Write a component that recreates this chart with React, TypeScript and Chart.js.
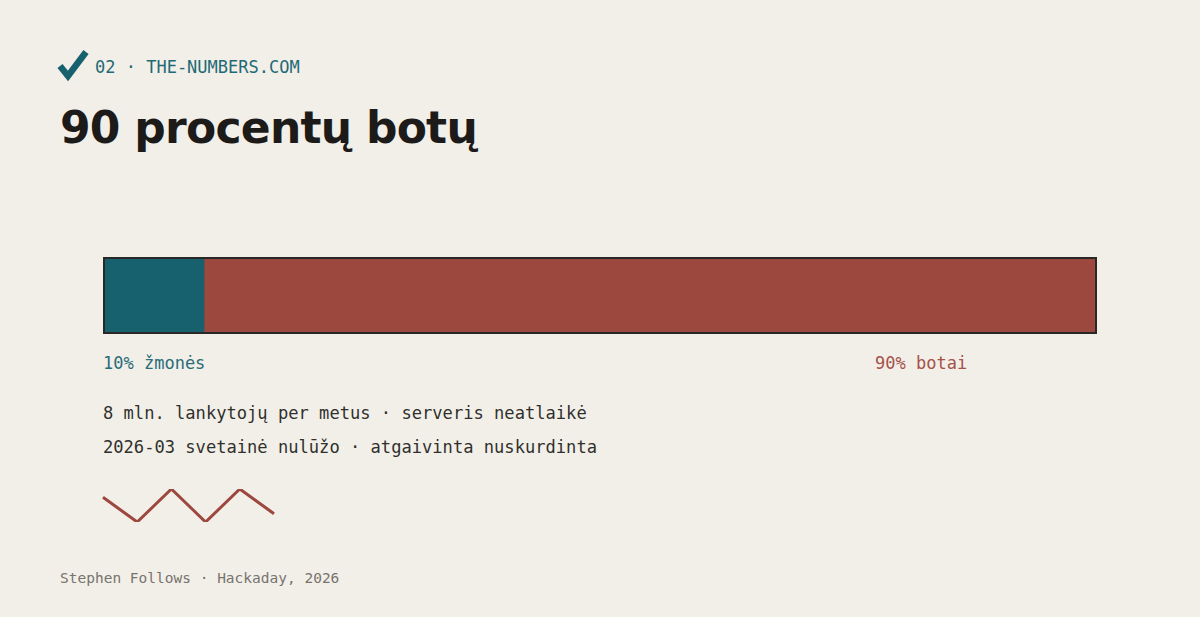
import React, { useEffect, useRef } from "react";
import { Chart, registerables } from "chart.js";

Chart.register(...registerables);

const shareCategories = ["Lankytojai"];
const shareLabels = ["žmonės", "botai"];
const humanShare = [10];
const botShare = [90];
const zigzagPoints = ["a", "b", "c", "d", "e", "f"];
const zigzagValues = [0.75, 0, 1, 0, 1, 0.25];

const BG = "#f2efe9";
const TEAL = "#17606d";
const RED = "#9c483e";
const MONO = "'DejaVu Sans Mono', monospace";

function ShareBar() {
  const ref = useRef<HTMLCanvasElement | null>(null);
  useEffect(() => {
    if (!ref.current) return;
    const chart = new Chart(ref.current, {
      type: "bar",
      data: {
        labels: shareCategories,
        datasets: [
          { label: shareLabels[0], data: humanShare, backgroundColor: TEAL, borderWidth: 0, barPercentage: 1, categoryPercentage: 1 },
          { label: shareLabels[1], data: botShare, backgroundColor: RED, borderWidth: 0, barPercentage: 1, categoryPercentage: 1 },
        ],
      },
      options: {
        indexAxis: "y",
        animation: false,
        responsive: false,
        maintainAspectRatio: false,
        layout: { padding: 0 },
        plugins: { legend: { display: false }, tooltip: { enabled: false } },
        scales: {
          x: { stacked: true, min: 0, max: 100, display: false },
          y: { stacked: true, display: false },
        },
      },
    });
    return () => chart.destroy();
  }, []);
  return <canvas ref={ref} width={990} height={73} style={{ display: "block", width: 990, height: 73 }} />;
}

function Zigzag() {
  const ref = useRef<HTMLCanvasElement | null>(null);
  useEffect(() => {
    if (!ref.current) return;
    const chart = new Chart(ref.current, {
      type: "line",
      data: {
        labels: zigzagPoints,
        datasets: [
          { data: zigzagValues, borderColor: RED, borderWidth: 3, pointRadius: 0, tension: 0, fill: false },
        ],
      },
      options: {
        animation: false,
        responsive: false,
        maintainAspectRatio: false,
        layout: { padding: 5 },
        plugins: { legend: { display: false }, tooltip: { enabled: false } },
        scales: {
          x: { display: false, offset: false },
          y: { display: false, min: 0, max: 1 },
        },
      },
    });
    return () => chart.destroy();
  }, []);
  return <canvas ref={ref} width={181} height={43} style={{ display: "block", width: 181, height: 43 }} />;
}

export default function App() {
  const abs = (left: number, top: number, extra: React.CSSProperties = {}): React.CSSProperties => ({
    position: "absolute",
    left,
    top,
    whiteSpace: "nowrap",
    ...extra,
  });
  return (
    <div style={{ position: "fixed", inset: 0, background: BG, overflow: "hidden", fontFamily: MONO }}>
      <svg style={{ position: "absolute", left: 56, top: 48 }} width={36} height={34} viewBox="0 0 36 34">
        <polyline points="4,18 12,28 30,4" fill="none" stroke={TEAL} strokeWidth={6.5} strokeLinecap="butt" strokeLinejoin="miter" />
      </svg>
      <div style={abs(95, 59, { fontSize: 17, lineHeight: "17px", color: "#1f6a75" })}>02 · THE-NUMBERS.COM</div>
      <div style={abs(60, 106, { fontFamily: "'DejaVu Sans', sans-serif", fontWeight: 700, fontSize: 44, lineHeight: "44px", letterSpacing: "-0.75px", color: "#1c1b19" })}>
        90 procentų botų
      </div>
      <div style={{ position: "absolute", left: 103, top: 257, width: 994, height: 77, boxSizing: "border-box", border: "2px solid #2a2826" }}>
        <ShareBar />
      </div>
      <div style={abs(103, 355, { fontSize: 17, lineHeight: "17px", color: "#2a6d78" })}>10% žmonės</div>
      <div style={abs(875, 355, { fontSize: 17, lineHeight: "17px", color: "#a5524a" })}>90% botai</div>
      <div style={abs(103, 405, { fontSize: 17.1, lineHeight: "17px", color: "#302f2c" })}>8 mln. lankytojų per metus · serveris neatlaikė</div>
      <div style={abs(103, 439, { fontSize: 17.1, lineHeight: "17px", color: "#302f2c" })}>2026-03 svetainė nulūžo · atgaivinta nuskurdinta</div>
      <div style={{ position: "absolute", left: 98, top: 484 }}>
        <Zigzag />
      </div>
      <div style={abs(60, 571, { fontSize: 14.5, lineHeight: "14.5px", color: "#77746e" })}>Stephen Follows · Hackaday, 2026</div>
    </div>
  );
}
